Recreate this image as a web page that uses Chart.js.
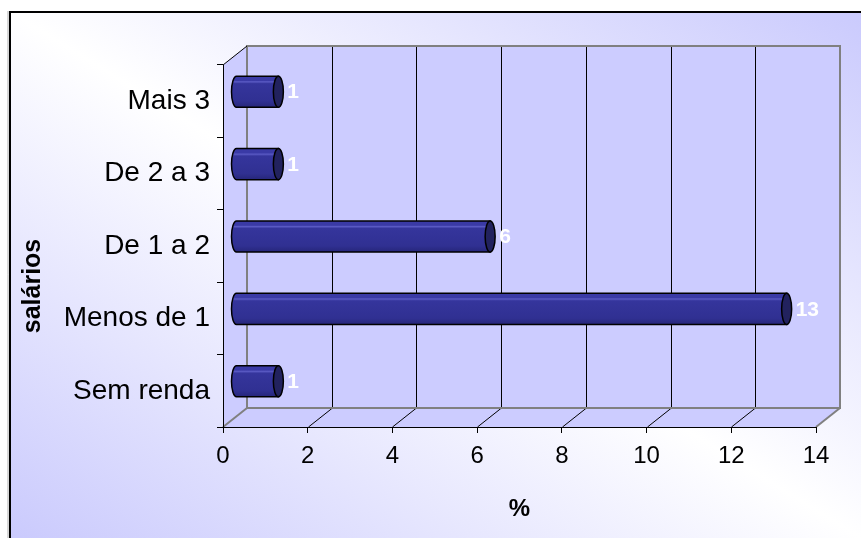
<!DOCTYPE html>
<html>
<head>
<meta charset="utf-8">
<script src="https://cdn.jsdelivr.net/npm/chart.js@4"></script>
<style>
  html, body { margin: 0; padding: 0; background: #fff; }
  #wrap { width: 861px; height: 538px; position: relative; }
</style>
</head>
<body>
<div id="wrap"><canvas id="salary-chart"></canvas></div>
<script>
const categories = ["Sem renda", "Menos de 1", "De 1 a 2", "De 2 a 3", "Mais 3"];
const percentages = [1, 13, 6, 1, 1];
const xTicks = [0, 2, 4, 6, 8, 10, 12, 14];
const yTitle = "salários";
const xTitle = "%";

const FONT = '"Liberation Sans", Arial, sans-serif';
const DEPTH_X = 24;
const DEPTH_Y = -19;
const WALL = "#CCCCFF";
const EDGE = "#808080";

function poly(ctx, pts) {
  ctx.beginPath();
  ctx.moveTo(pts[0][0], pts[0][1]);
  for (let i = 1; i < pts.length; i++) ctx.lineTo(pts[i][0], pts[i][1]);
  ctx.closePath();
}

function line(ctx, x1, y1, x2, y2, color, width) {
  ctx.beginPath();
  ctx.moveTo(x1, y1);
  ctx.lineTo(x2, y2);
  ctx.strokeStyle = color;
  ctx.lineWidth = width;
  ctx.stroke();
}

const box3d = {
  id: "box3d",
  beforeDraw(chart) {
    const { ctx, width, height, chartArea: a, scales: { x } } = chart;
    ctx.save();

    // framed background, diagonal lavender/white fill
    ctx.fillStyle = "#fff";
    ctx.fillRect(0, 0, width, height);
    ctx.save();
    ctx.translate(9, 11);
    ctx.scale(width - 9, height - 11);
    const g = ctx.createLinearGradient(0, 1, 1, 0);
    g.addColorStop(0, "#CACAFD");
    g.addColorStop(0.5, "#FFFFFF");
    g.addColorStop(1, "#CACAFD");
    ctx.fillStyle = g;
    ctx.fillRect(0, 0, 1, 1);
    ctx.restore();
    line(ctx, 8, 11, 8, height, "#b0b0b0", 1);
    line(ctx, 10, 11, 10, height, "#000", 2);
    line(ctx, 9, 12, width, 12, "#000", 2);

    const L = a.left, R = a.right, T = a.top, B = a.bottom;
    const dx = DEPTH_X, dy = DEPTH_Y;

    // walls and floor
    ctx.fillStyle = WALL;
    ctx.fillRect(L + dx, T + dy, R - L, B - T);
    poly(ctx, [[L, T], [L + dx, T + dy], [L + dx, B + dy], [L, B]]);
    ctx.fill();
    poly(ctx, [[L, B], [R, B], [R + dx, B + dy], [L + dx, B + dy]]);
    ctx.fill();

    // gridlines on back wall and floor
    xTicks.slice(1, -1).forEach((v) => {
      const px = Math.round(x.getPixelForValue(v)) + 0.5;
      line(ctx, px + dx, T + dy, px + dx, B + dy, "#000", 1);
      line(ctx, px, B, px + dx, B + dy, "#000", 1);
    });

    // wall edges
    ctx.strokeStyle = EDGE;
    ctx.lineWidth = 2;
    ctx.strokeRect(L + dx, T + dy, R - L, B - T);
    line(ctx, L, B, L + dx, B + dy, EDGE, 2);
    line(ctx, R, B, R + dx, B + dy, EDGE, 2);
    line(ctx, L, T, L + dx, T + dy, "#000", 1);
    ctx.restore();
  },
  afterDatasetsDraw(chart) {
    const { ctx } = chart;
    const meta = chart.getDatasetMeta(0);
    const ox = DEPTH_X / 2 + 1, oy = DEPTH_Y / 2;
    ctx.save();
    meta.data.forEach((bar, i) => {
      const { x, y, base, height } = bar.getProps(["x", "y", "base", "height"], true);
      const x0 = base + ox, x1 = x + ox, cy = y + oy;
      const ry = height / 2, rx = 5;
      const top = cy - ry, bot = cy + ry;

      // cylinder body
      ctx.beginPath();
      ctx.moveTo(x1, top);
      ctx.lineTo(x0, top);
      ctx.ellipse(x0, cy, rx, ry, 0, -Math.PI / 2, Math.PI / 2, true);
      ctx.lineTo(x1, bot);
      ctx.closePath();
      const g = ctx.createLinearGradient(0, top, 0, bot);
      g.addColorStop(0, "#3a3aa6");
      g.addColorStop(0.14, "#3a3aa6");
      g.addColorStop(0.18, "#5a5ac4");
      g.addColorStop(0.24, "#35359c");
      g.addColorStop(0.8, "#303092");
      g.addColorStop(1, "#26267a");
      ctx.fillStyle = g;
      ctx.fill();
      ctx.strokeStyle = "#000";
      ctx.lineWidth = 1.5;
      ctx.stroke();

      // end cap
      ctx.beginPath();
      ctx.ellipse(x1, cy, rx, ry, 0, 0, Math.PI * 2);
      ctx.fillStyle = "#22225e";
      ctx.fill();
      ctx.stroke();

      // value label
      ctx.fillStyle = "#fff";
      ctx.font = "bold 21px " + FONT;
      ctx.textAlign = "left";
      ctx.textBaseline = "middle";
      ctx.fillText(String(percentages[i]), x1 + rx + 4, cy + 1);
    });

    // category axis title
    ctx.translate(33, 286);
    ctx.rotate(-Math.PI / 2);
    ctx.fillStyle = "#000";
    ctx.font = "bold 25px " + FONT;
    ctx.textAlign = "center";
    ctx.textBaseline = "middle";
    ctx.fillText(yTitle, 0, 0);
    ctx.restore();
  },
};

new Chart(document.getElementById("salary-chart"), {
  type: "bar",
  data: {
    labels: categories,
    datasets: [
      {
        label: xTitle,
        data: percentages,
        backgroundColor: "rgba(0,0,0,0)",
        borderWidth: 0,
        categoryPercentage: 1,
        barPercentage: 0.43,
      },
    ],
  },
  options: {
    indexAxis: "y",
    responsive: true,
    maintainAspectRatio: false,
    animation: false,
    layout: { padding: { top: 65, right: 45, left: 0, bottom: 0 } },
    plugins: {
      legend: { display: false },
      tooltip: { enabled: false },
    },
    scales: {
      x: {
        type: "linear",
        min: xTicks[0],
        max: xTicks[xTicks.length - 1],
        ticks: {
          stepSize: xTicks[1] - xTicks[0],
          color: "#000",
          font: { family: FONT, size: 24 },
          padding: 9,
        },
        grid: { drawOnChartArea: false, color: "#000", tickLength: 6 },
        border: { display: true, color: "#000", width: 1 },
        title: {
          display: true,
          text: xTitle,
          color: "#000",
          font: { family: FONT, size: 24, weight: "bold" },
          padding: { top: 0, bottom: 14 },
        },
        afterFit(scale) {
          scale.height = 111;
        },
      },
      y: {
        type: "category",
        reverse: true,
        ticks: {
          color: "#000",
          font: { family: FONT, size: 28 },
          padding: 7,
        },
        grid: { offset: true, drawOnChartArea: false, color: "#000", tickLength: 6 },
        border: { display: true, color: "#000", width: 1 },
        afterFit(scale) {
          scale.width = 223;
        },
      },
    },
  },
  plugins: [box3d],
});
</script>
</body>
</html>
